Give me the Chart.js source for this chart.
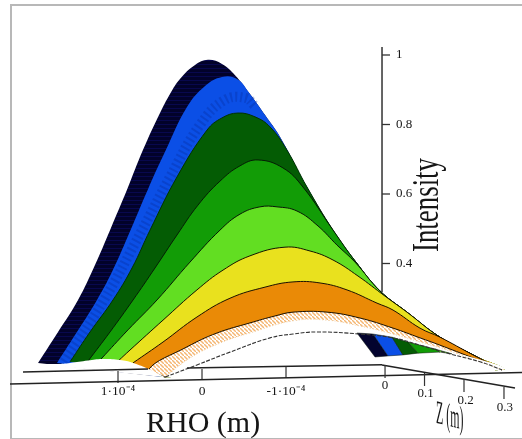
<!DOCTYPE html>
<html><head><meta charset="utf-8">
<style>
html,body{margin:0;padding:0;background:#fff;overflow:hidden;width:522px;height:439px}
#frame{position:absolute;left:10px;top:4px;width:600px;height:432px;border:2px solid #b8b8b8;box-sizing:content-box}
canvas{position:absolute;left:0;top:0}
</style>
<script src="https://cdn.jsdelivr.net/npm/chart.js@4"></script>
</head><body>
<div id="frame"></div>
<canvas id="c" width="522" height="439"></canvas>
<script>
// Radial coordinate in units of 1e-4 m, intensity normalised to 1
const edgeRho = [-0.571,-0.750,-0.929,-1.250,-1.560,-1.833,-2.119,-2.440,-2.833,-3.226,-3.571];
const edgeInt = [0.888,0.827,0.764,0.620,0.496,0.404,0.321,0.260,0.188,0.137,0.094];

const blackRho = [1.952,1.714,1.476,1.274,1.095,0.893,0.702,0.500,0.381,0.262,0.083,-0.071,-0.238,-0.393];
const blackInt = [0.114,0.203,0.295,0.396,0.496,0.612,0.727,0.833,0.888,0.931,0.971,0.986,0.974,0.942];
const blueRho = [1.726,1.512,1.250,1.071,0.881,0.643,0.429,0.179,-0.036,-0.238,-0.417];
const blueInt = [0.114,0.194,0.295,0.376,0.479,0.614,0.727,0.850,0.911,0.937,0.931];
const hatchRho = [1.643,1.167,0.714,0.381,0.024,-0.274,-0.524,-0.631];
const hatchInt = [0.117,0.295,0.496,0.649,0.799,0.871,0.876,0.853];
const darkRho = [1.571,1.333,1.060,0.833,0.619,0.298,-0.060,-0.238,-0.429,-0.631,-0.810,-1.012];
const darkInt = [0.117,0.203,0.295,0.387,0.496,0.649,0.784,0.819,0.833,0.822,0.793,0.726];
const greenRho = [1.357,1.095,0.821,0.560,0.298,0.048,-0.214,-0.452,-0.667,-0.964,-1.202];
const greenInt = [0.119,0.203,0.295,0.387,0.482,0.568,0.637,0.681,0.698,0.675,0.620];
const limeRho = [1.202,0.881,0.536,0.143,-0.214,-0.452,-0.690,-0.893,-1.131,-1.381,-1.607,-1.821];
const limeInt = [0.125,0.209,0.295,0.404,0.496,0.542,0.563,0.563,0.551,0.508,0.453,0.404];
const yellowRho = [1.000,0.857,0.464,0.060,-0.250,-0.571,-0.988,-1.286,-1.560,-1.857,-2.179];
const yellowInt = [0.119,0.151,0.237,0.324,0.381,0.422,0.447,0.436,0.410,0.364,0.306];
const orangeRho = [0.821,0.464,0.060,-0.333,-0.750,-1.083,-1.405,-1.726,-2.083,-2.274,-2.595];
const orangeInt = [0.114,0.174,0.246,0.300,0.332,0.347,0.344,0.324,0.286,0.266,0.214];
const lowRho = [0.631,0.179,-0.179,-0.571,-0.869,-1.083,-1.488,-1.881,-2.274,-2.595,-2.833,-3.226,-3.571];
const lowInt = [0.096,0.160,0.200,0.229,0.249,0.260,0.260,0.243,0.214,0.186,0.165,0.128,0.094];
const paleRho = [0.440,0.143,-0.214,-0.571,-1.083,-1.488,-1.881,-2.274,-2.595,-2.952,-3.571];
const paleInt = [0.073,0.128,0.171,0.200,0.235,0.237,0.220,0.197,0.174,0.148,0.094];
const baseRho = [0.440,0.060,-0.333,-0.810,-1.083,-1.369,-1.881,-2.274,-2.595,-2.952,-3.310,-3.571];
const baseInt = [0.073,0.108,0.145,0.186,0.197,0.203,0.197,0.186,0.165,0.140,0.117,0.094];
const footRho = [1.952,1.726,1.571,1.357,1.190,0.976,0.821,0.631,0.440];
const footInt = [0.111,0.111,0.114,0.121,0.125,0.122,0.114,0.096,0.073];
const coverRho = [0.357,-3.488,-3.488,0.357];
const coverInt = [0.079,0.0964,0.0763,0.0561];

// Underside strip seen at the lower right
const stripBlackRho = [-1.845,-2.036,-2.214,-2.060];
const stripBlackInt = [0.200,0.197,0.134,0.131];
const stripBlueRho = [-2.036,-2.262,-2.393,-2.214];
const stripBlueInt = [0.197,0.188,0.137,0.134];
const stripDarkRho = [-2.262,-2.452,-2.571,-2.393];
const stripDarkInt = [0.188,0.174,0.142,0.137];
const stripGreenRho = [-2.452,-2.774,-2.833,-2.571];
const stripGreenInt = [0.174,0.154,0.145,0.142];
const stripLimeRho = [-2.774,-2.976,-2.833];
const stripLimeInt = [0.154,0.140,0.145];

// Axes
const frontAxisRho = [2.286,-3.810];
const frontAxisInt = [0.0532,0.0863];
const backAxisARho = [2.131,0.643];
const backAxisAInt = [0.0878,0.0964];
const backAxisBRho = [0.179,-2.143];
const backAxisBInt = [0.0993,0.1085];
const zAxisRho = [-2.143,-3.726];
const zAxisInt = [0.1079,0.0417];
const intAxisRho = [-2.143,-2.143];
const intAxisInt = [0.318,1.023];
const intTicks = [0.4,0.6,0.8,1];
const intTickEnd = -2.238;
const intLabelRho = -2.310;
const rhoTicks = [1,0,-1];
const rhoTickLabels = ['1·10⁻⁴','0','-1·10⁻⁴'];
const rhoTickTop = [0.0906,0.0964,0.1022];
const rhoTickBottom = [0.0561,0.0647,0.0705];
const zTickLabels = ['0','0.1','0.2','0.3'];
const zTickRho = [-2.179,-2.649,-3.119,-3.595];
const zTickTop = [0.1079,0.0849,0.0676,0.0446];
const zTickBottom = [0.0705,0.0475,0.0302,0.0101];
const zLabelRho = [-2.179,-2.661,-3.137,-3.607];
const zLabelInt = [0.0475,0.0245,0.0043,-0.0158];

const pts = (xs,ys) => xs.map((x,i)=>({x,y:ys[i]}));
const edgeFrom = n => pts(edgeRho.slice(n),edgeInt.slice(n));

function pattern(bg,fg,size,draw){
  const c=document.createElement('canvas');c.width=c.height=size;
  const g=c.getContext('2d');g.fillStyle=bg;g.fillRect(0,0,size,size);
  g.strokeStyle=fg;g.fillStyle=fg;draw(g,size);
  return g.createPattern(c,'repeat');
}
const navyHatch = pattern('#02022a','#08084e',4,(g,s)=>{g.fillRect(0,0,s,1);});
const paleHatch = pattern('#ffffff','#f5b671',4,(g,s)=>{g.lineWidth=1.4;g.beginPath();g.moveTo(0,0);g.lineTo(s,s);g.stroke();});

const ds = [];
const base = pts(baseRho.slice(0,1),baseInt.slice(0,1));
const T = 0.42;
function band(curve,color,line){
  ds.push({data:curve.concat(base),backgroundColor:color,borderWidth:0,fill:'shape',tension:T});
  if(line) ds.push({data:curve,borderColor:line,borderWidth:1,fill:false,tension:T});
}
function poly(xs,ys,color,edge){
  ds.push({data:pts(xs,ys).concat(pts(xs.slice(0,1),ys.slice(0,1))),backgroundColor:color,borderColor:edge||'#0a140a',borderWidth:edge?0:0.5,fill:'shape',tension:0});
}
function rule(xs,ys,w,color){
  ds.push({data:pts(xs,ys),borderColor:color||'#222',borderWidth:w||1.4,fill:false,tension:0});
}

rule(intAxisRho,intAxisInt,1.5,'#333');
intTicks.forEach(v=>rule([intAxisRho[0],intTickEnd],[v,v],1.3,'#333'));

band(pts(blackRho,blackInt).concat(edgeFrom(0)),navyHatch);
band(pts(blueRho,blueInt).concat(edgeFrom(0)),'#0b4fe6');
ds.push({data:pts(hatchRho,hatchInt),borderColor:'rgba(6,40,150,0.3)',borderWidth:10,borderDash:[2,3],fill:false,tension:T});
band(pts(darkRho,darkInt).concat(edgeFrom(3)),'#045c04','#023202');
band(pts(greenRho,greenInt).concat(edgeFrom(4)),'#129c06','#041c04');
band(pts(limeRho,limeInt).concat(edgeFrom(6)),'#62de22','#061806');
band(pts(yellowRho,yellowInt).concat(edgeFrom(7)),'#e9e11e','#141400');
band(pts(orangeRho,orangeInt).concat(edgeFrom(8)),'#ea8a06','#1a1000');
band(base.concat(pts(lowRho,lowInt)),paleHatch,'#1a1000');
band(pts(paleRho,paleInt),'#ffffff');
ds.push({data:pts(paleRho,paleInt),borderColor:'#f0cfa6',borderWidth:1,borderDash:[1,2],fill:false,tension:T});
band(pts(footRho,footInt),'#ffffff');
poly(coverRho,coverInt,'#ffffff','#ffffff');
poly(stripBlackRho,stripBlackInt,'#03032e');
poly(stripBlueRho,stripBlueInt,'#0b4fe6');
poly(stripDarkRho,stripDarkInt,'#045c04');
poly(stripGreenRho,stripGreenInt,'#129c06');
poly(stripLimeRho,stripLimeInt,'#62de22');
ds.push({data:pts(baseRho,baseInt),borderColor:'#333',borderWidth:1.1,borderDash:[4,1.5],fill:false,tension:T});

rule(backAxisARho,backAxisAInt,1.6);
rule(backAxisBRho,backAxisBInt,1.6);
rhoTicks.forEach((r,i)=>rule([r,r],[rhoTickTop[i],rhoTickBottom[i]],1.2,'#333'));
rule(zAxisRho,zAxisInt,1.5);
rule(frontAxisRho,frontAxisInt,1.7);
zTickRho.forEach((r,i)=>rule([r,r],[zTickTop[i],zTickBottom[i]],1.2,'#333'));

ds.forEach((d,i)=>{d.order=ds.length-i;d.pointRadius=0;d.showLine=true;d.clip=false;});

const serif='"Liberation Serif","Times New Roman",serif';
const labels={id:'labels',afterDraw(ch){
  const g=ch.ctx,X=ch.scales.x,Y=ch.scales.y;
  g.save();g.fillStyle='#161616';
  g.font='13px '+serif;g.textAlign='center';g.textBaseline='middle';
  zTickLabels.forEach((t,i)=>g.fillText(t,X.getPixelForValue(zLabelRho[i]),Y.getPixelForValue(zLabelInt[i])));
  g.textAlign='left';
  intTicks.forEach(v=>g.fillText(String(v),X.getPixelForValue(intLabelRho),Y.getPixelForValue(v)));
  g.textBaseline='alphabetic';
  g.font='30px '+serif;g.fillText('RHO (m)',X.getPixelForValue(0.667),Y.getPixelForValue(-0.085));
  g.save();g.translate(X.getPixelForValue(-2.810),Y.getPixelForValue(0.433));g.rotate(-Math.PI/2);g.scale(0.707,1);
  g.font='38px '+serif;g.fillText('Intensity',0,0);g.restore();
  g.save();g.transform(0.36,0.09,0,1,X.getPixelForValue(-2.786),Y.getPixelForValue(-0.058));
  g.font='33px '+serif;g.fillText('Z (m)',0,0);g.restore();
  g.restore();
}};

new Chart(document.getElementById('c'),{
  type:'scatter',
  data:{datasets:ds},
  plugins:[labels],
  options:{
    responsive:false,animation:false,events:[],
    layout:{padding:0},
    plugins:{legend:{display:false},tooltip:{enabled:false},title:{display:false},filler:{drawTime:'beforeDatasetDraw',propagate:false}},
    scales:{
      x:{type:'linear',reverse:true,min:-3.8095,max:2.4048,position:{y:0.054},
        afterBuildTicks:s=>{s.ticks=rhoTicks.map(v=>({value:v}));},
        grid:{display:false,drawTicks:false},border:{display:false},
        ticks:{autoSkip:false,maxRotation:0,padding:0,color:'#161616',font:{family:serif,size:13.5},
          callback:v=>rhoTickLabels[rhoTicks.indexOf(v)]}},
      y:{type:'linear',min:-0.10504,max:1.15827,display:false}
    }
  }
});
</script>
</body></html>
